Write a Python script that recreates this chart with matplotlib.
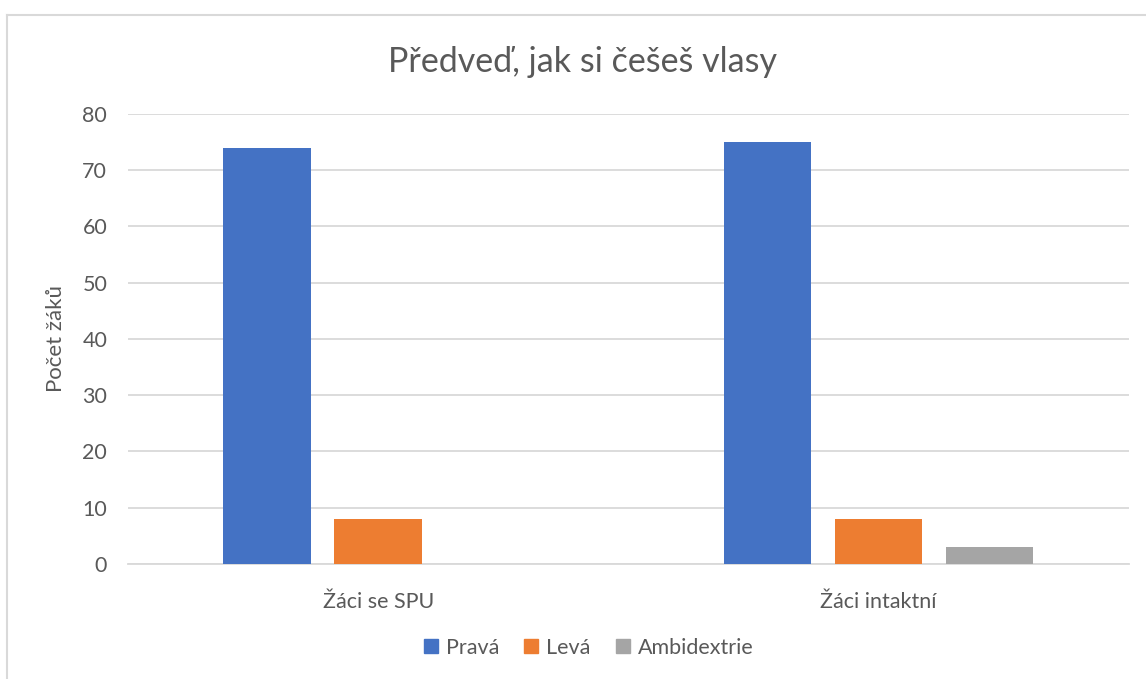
import numpy as np
import matplotlib.pyplot as plt
from matplotlib.lines import Line2D

plt.rcParams['font.family'] = ['Lato', 'DejaVu Sans']

# Data
categories = ["Žáci se SPU", "Žáci intaktní"]
series_names = ["Pravá", "Levá", "Ambidextrie"]
prava = [74, 75]
leva = [8, 8]
ambidextrie = [0, 3]
colors = ["#4472C4", "#ED7D31", "#A5A5A5"]

text_col = "#595959"

fig = plt.figure(figsize=(11.46, 6.79), dpi=100)
ax = fig.add_axes([0.1117, 0.1694, 0.8733, 0.6627])

x = np.arange(len(categories))
width = 0.175
step = 0.222
for i, (vals, name) in enumerate(zip([prava, leva, ambidextrie], series_names)):
    ax.bar(x + (i - 1) * step, vals, width, color=colors[i], label=name, zorder=3)

ax.set_xlim(-0.5, 1.5)
ax.set_ylim(0, 80)
ax.set_yticks(range(0, 81, 10))
ax.grid(axis='y', color="#D9D9D9", linewidth=1.3, zorder=0)
for s in ['top', 'right', 'left']:
    ax.spines[s].set_visible(False)
ax.spines['bottom'].set_color("#D9D9D9")
ax.spines['bottom'].set_linewidth(1.3)
ax.set_xticks(x)
ax.set_xticklabels(categories)
ax.tick_params(axis='both', length=0, labelsize=15.5, colors=text_col)
ax.tick_params(axis='y', pad=15)
ax.tick_params(axis='x', pad=20)
ax.set_ylabel("Počet žáků", fontsize=16, color=text_col, labelpad=12)

fig.text(0.508, 0.908, "Předveď, jak si češeš vlasy", ha='center', va='center',
         fontsize=24.5, color=text_col)

handles = [Line2D([], [], marker='s', linestyle='none', markersize=10,
                  markerfacecolor=c, markeredgecolor=c) for c in colors]
fig.legend(handles, series_names, loc='center', bbox_to_anchor=(0.513, 0.046),
           ncol=3, frameon=False, fontsize=15.5, handlelength=0.8,
           handletextpad=0.3, columnspacing=1.1, labelcolor=text_col)

# chart border (left and top only visible)
fig.add_artist(Line2D([0.0065, 0.0065], [0.0, 0.978], color="#D9D9D9", linewidth=1.5,
                      transform=fig.transFigure))
fig.add_artist(Line2D([0.0065, 1.0], [0.978, 0.978], color="#D9D9D9", linewidth=1.5,
                      transform=fig.transFigure))

fig.savefig("out.png", dpi=100, facecolor='white')
